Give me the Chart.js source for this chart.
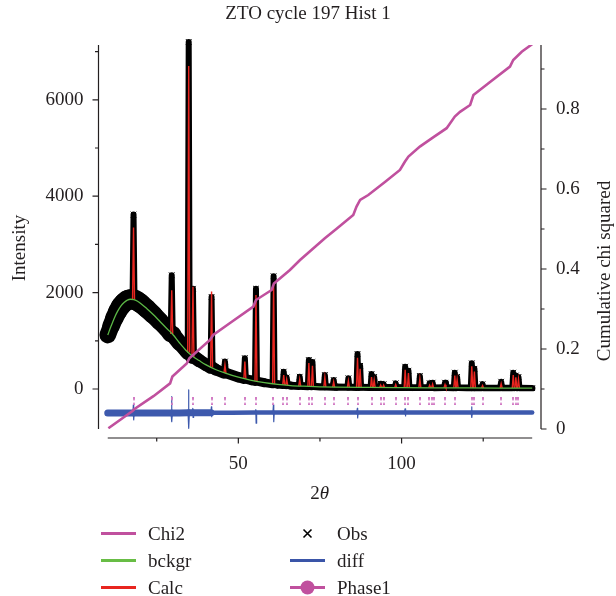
<!DOCTYPE html>
<html>
<head>
<meta charset="utf-8">
<title>ZTO cycle 197 Hist 1</title>
<script src="https://cdn.jsdelivr.net/npm/chart.js@4.4.1/dist/chart.umd.min.js"></script>
<style>
  body { margin: 0; background: #fff; }
  #wrap { position: relative; width: 616px; height: 596px; }
  #chart { position: absolute; left: 0; top: 0; }
  .key { position: absolute; height: 27px; display: flex; align-items: center;
         font: 19px "Liberation Serif", serif; color: #231f20; }
  .key svg { width: 35px; height: 27px; margin-right: 12px; }
</style>
</head>
<body>
<div id="wrap">
  <canvas id="chart" width="616" height="596"></canvas>

  <div class="key" style="left:101px; top:520px">
    <svg viewBox="0 0 35 27"><line x1="0" y1="13.5" x2="35" y2="13.5" stroke="#c0509e" stroke-width="3"/></svg>Chi2</div>
  <div class="key" style="left:101px; top:547px">
    <svg viewBox="0 0 35 27"><line x1="0" y1="13.5" x2="35" y2="13.5" stroke="#68bd45" stroke-width="3"/></svg>bckgr</div>
  <div class="key" style="left:101px; top:574px">
    <svg viewBox="0 0 35 27"><line x1="0" y1="13.5" x2="35" y2="13.5" stroke="#e8251f" stroke-width="3"/></svg>Calc</div>
  <div class="key" style="left:290px; top:520px">
    <svg viewBox="0 0 35 27"><path d="M13.5 9.5 L21.5 17.5 M21.5 9.5 L13.5 17.5" stroke="#000" stroke-width="1.6"/></svg>Obs</div>
  <div class="key" style="left:290px; top:547px">
    <svg viewBox="0 0 35 27"><line x1="0" y1="13.5" x2="35" y2="13.5" stroke="#3a55a8" stroke-width="3"/></svg>diff</div>
  <div class="key" style="left:290px; top:574px">
    <svg viewBox="0 0 35 27"><line x1="0" y1="13.5" x2="35" y2="13.5" stroke="#c0509e" stroke-width="3"/><circle cx="17.5" cy="13.5" r="7" fill="#c0509e"/></svg>Phase1</div>
</div>

<script>
// background curve (green)
const twoThetaBg = [10, 11, 12, 13, 14, 15, 16, 17, 18, 19, 20, 22, 24, 26, 28, 30, 32, 34, 36, 38, 40, 43, 46, 50, 54, 58, 62, 66, 70, 75, 80, 90, 100, 110, 120, 130, 140];
const bckgr = [1120, 1300, 1470, 1610, 1720, 1795, 1845, 1862, 1855, 1825, 1780, 1665, 1540, 1400, 1260, 1125, 955, 800, 680, 590, 505, 405, 330, 245, 180, 130, 95, 72, 58, 45, 38, 32, 28, 25, 22, 20, 18];

// peaks: position, base level, observed top, calculated top
const peakPos  = [17.9, 29.6, 34.8, 36.1, 41.8, 45.9, 52.0, 55.4, 60.8, 63.9, 64.8, 68.8, 71.6, 72.7, 76.5, 79.2, 83.7, 86.5, 87.3, 90.8, 91.6, 93.6, 94.5, 98.2, 101.1, 102.1, 105.6, 108.6, 109.5, 113.3, 116.3, 117.0, 121.5, 122.3, 124.8, 130.5, 134.2, 135.0, 135.8];
const peakBase = [1855, 1140, 755, 670, 445, 332, 210, 162, 105, 85, 82, 62, 55, 53, 45, 40, 36, 34, 34, 32, 32, 31, 31, 30, 29, 29, 28, 27, 27, 26, 25, 25, 23, 23, 22, 21, 20, 20, 20];
const obsTop   = [3620, 2360, 7200, 2080, 1910, 570, 640, 2080, 2340, 360, 240, 255, 600, 560, 290, 187, 222, 726, 480, 311, 250, 110, 100, 118, 463, 380, 270, 120, 131, 131, 339, 250, 533, 420, 100, 151, 339, 280, 250];
const calcTop  = [3350, 2050, 6700, 2120, 2020, 500, 570, 1950, 2190, 290, 200, 200, 540, 480, 240, 150, 170, 650, 420, 250, 180, 80, 80, 90, 400, 330, 210, 80, 100, 90, 280, 200, 470, 360, 70, 110, 290, 240, 200];

// difference curve (blue)
const diffX = [10, 15, 17.7, 17.85, 17.95, 18.1, 20, 25, 29.4, 29.55, 29.65, 29.8, 32, 34.6, 34.75, 34.85, 35.0, 35.9, 36.05, 36.15, 36.3, 38, 41.6, 41.75, 41.85, 42.0, 48, 55.2, 55.35, 55.45, 55.6, 60.6, 60.75, 60.85, 61.0, 70, 80, 86.3, 86.45, 86.55, 86.7, 95, 100.9, 101.05, 101.15, 101.3, 110, 121.3, 121.45, 121.55, 121.7, 130, 140];
const diffY = [-500, -500, -499, -330, -640, -499, -498, -498, -497, -160, -680, -497, -496, -495, -20, -815, -495, -495, -400, -590, -495, -495, -494, -370, -575, -494, -492, -490, -430, -710, -490, -490, -330, -680, -490, -489, -488, -488, -400, -600, -488, -488, -488, -410, -560, -488, -487, -487, -370, -590, -487, -487, -487];

// cumulative chi squared (right axis)
const chi2X = [10.2, 17.6, 18.2, 24, 29.1, 29.8, 34.2, 35.0, 41.3, 42.3, 48, 54.6, 55.4, 60.2, 60.9, 65.8, 68.9, 73.0, 76.5, 80, 85.2, 86.2, 87.3, 89.8, 95, 99.5, 101.0, 102.1, 105.6, 110, 113.8, 116.3, 117.9, 121.0, 122.0, 127, 133.2, 134.2, 136.8, 140.3];
const chi2Y = [0.002, 0.045, 0.050, 0.082, 0.114, 0.131, 0.164, 0.177, 0.2225, 0.235, 0.268, 0.306, 0.3225, 0.3475, 0.364, 0.3975, 0.4225, 0.452, 0.477, 0.500, 0.535, 0.556, 0.5725, 0.585, 0.618, 0.6475, 0.668, 0.681, 0.706, 0.731, 0.752, 0.781, 0.793, 0.81, 0.835, 0.867, 0.906, 0.9225, 0.943, 0.964];

// Phase1 reflection markers
const reflPos = [17.9, 29.6, 36.0, 41.8, 45.9, 52.0, 55.3, 60.7, 63.8, 64.8, 68.8, 71.6, 72.7, 76.5, 79.2, 83.7, 86.5, 90.8, 93.6, 94.5, 98.2, 101.1, 102.1, 105.6, 108.5, 109.3, 109.8, 113.3, 116.3, 121.5, 122.1, 124.8, 130.5, 134.2, 135.0, 135.8];
const reflLevel = -259;

// ticks (all) and tick labels (major)
const xTicks = [25, 50, 75, 100, 125];
const yTicks = [0, 1000, 2000, 3000, 4000, 5000, 6000, 7000];
const y2Ticks = [0, 0.1, 0.2, 0.3, 0.4, 0.5, 0.6, 0.7, 0.8, 0.9];
const xLabels = [50, 100];
const yLabels = [0, 2000, 4000, 6000];
const y2Labels = [0, 0.2, 0.4, 0.6, 0.8];

const PEAK_HW = 0.3;
const INK = '#231f20';
const MAGENTA = '#c0509e';
const FONT = '"Liberation Serif", serif';

function buildProfile(tops) {
  const pts = [];
  twoThetaBg.forEach((t, i) => {
    if (!peakPos.some(p => Math.abs(p - t) < PEAK_HW + 0.05)) {
      pts.push({ x: t, y: bckgr[i], top: false });
    }
  });
  peakPos.forEach((p, i) => {
    pts.push({ x: p - PEAK_HW, y: peakBase[i], top: false });
    pts.push({ x: p, y: tops[i], top: true });
    pts.push({ x: p + PEAK_HW, y: peakBase[i], top: false });
  });
  return pts.sort((a, b) => a.x - b.x);
}

const obsData = buildProfile(obsTop);
const calcData = buildProfile(calcTop);
const touchesTop = (data, c) => data[c.p0DataIndex].top || data[c.p1DataIndex].top;

// reflection tick: two short dashes stacked
const tickMark = document.createElement('canvas');
tickMark.width = 2;
tickMark.height = 8;
const tc = tickMark.getContext('2d');
tc.fillStyle = '#d27cc4';
tc.fillRect(0, 0, 2, 2.7);
tc.fillRect(0, 5.4, 2, 2.6);

const near = (list, v) => list.some(l => Math.abs(l - v) < 1e-6);
const setTicks = list => s => { s.ticks = list.map(v => ({ value: v })); };

// axis lines, ticks and titles drawn in the offset style of the original
const axesPlugin = {
  id: 'axes',
  afterDraw(chart) {
    const { ctx, chartArea: a, scales } = chart;
    const { x, y, y2 } = scales;
    ctx.save();
    ctx.strokeStyle = INK;
    ctx.lineWidth = 1.2;
    ctx.beginPath();
    ctx.moveTo(a.left, a.top); ctx.lineTo(a.left, a.bottom);
    ctx.moveTo(a.right, a.top); ctx.lineTo(a.right, a.bottom);
    const xb = a.bottom + 9;
    ctx.moveTo(x.getPixelForValue(twoThetaBg[0]), xb);
    ctx.lineTo(x.getPixelForValue(twoThetaBg[twoThetaBg.length - 1]), xb);
    y.ticks.forEach(t => {
      const py = y.getPixelForValue(t.value);
      ctx.moveTo(a.left - (near(yLabels, t.value) ? 6 : 3.5), py); ctx.lineTo(a.left, py);
    });
    y2.ticks.forEach(t => {
      const py = y2.getPixelForValue(t.value);
      ctx.moveTo(a.right, py); ctx.lineTo(a.right + (near(y2Labels, t.value) ? 5.5 : 3.5), py);
    });
    x.ticks.forEach(t => {
      const px = x.getPixelForValue(t.value);
      ctx.moveTo(px, xb); ctx.lineTo(px, xb + (near(xLabels, t.value) ? 5.5 : 3.5));
    });
    ctx.stroke();

    ctx.fillStyle = INK;
    ctx.textAlign = 'center';
    ctx.textBaseline = 'middle';
    ctx.font = '19px ' + FONT;
    const mid = (a.top + a.bottom) / 2;
    ctx.save();
    ctx.translate(a.left - 78, mid + 11);
    ctx.rotate(-Math.PI / 2);
    ctx.fillText('Intensity', 0, 0);
    ctx.restore();
    ctx.save();
    ctx.translate(a.right + 64, mid + 34);
    ctx.rotate(-Math.PI / 2);
    ctx.fillText('Cumulative chi squared', 0, 0);
    ctx.restore();

    // "2θ" with italic theta
    const cx = (a.left + a.right) / 2;
    const ty = a.bottom + 65;
    const w2 = ctx.measureText('2').width;
    ctx.font = 'italic 19px ' + FONT;
    const wt = ctx.measureText('θ').width;
    const start = cx - (w2 + wt) / 2;
    ctx.textAlign = 'left';
    ctx.font = '19px ' + FONT;
    ctx.fillText('2', start, ty);
    ctx.font = 'italic 19px ' + FONT;
    ctx.fillText('θ', start + w2, ty);
    ctx.restore();
  }
};

Chart.defaults.font.family = FONT;
Chart.defaults.font.size = 19;
Chart.defaults.color = INK;

new Chart(document.getElementById('chart'), {
  type: 'scatter',
  data: {
    datasets: [
      {
        label: 'Chi2',
        data: chi2X.map((t, i) => ({ x: t, y: chi2Y[i] })),
        yAxisID: 'y2',
        showLine: true,
        borderColor: MAGENTA,
        borderWidth: 2.6,
        pointRadius: 0,
        order: 0
      },
      {
        label: 'bckgr',
        data: twoThetaBg.map((t, i) => ({ x: t, y: bckgr[i] })),
        showLine: true,
        borderColor: '#5cb846',
        borderWidth: 1.3,
        cubicInterpolationMode: 'monotone',
        pointRadius: 0,
        order: 1
      },
      {
        label: 'Calc',
        data: calcData,
        showLine: true,
        borderColor: '#e8251f',
        borderWidth: 1.4,
        pointRadius: 0,
        segment: {
          borderColor: c => touchesTop(calcData, c) ? '#e8251f' : 'rgba(0,0,0,0)'
        },
        order: 2
      },
      {
        label: 'Phase1',
        data: reflPos.map(t => ({ x: t, y: reflLevel })),
        pointStyle: tickMark,
        pointRadius: 3,
        order: 3
      },
      {
        label: 'diff',
        data: diffX.map((t, i) => ({ x: t, y: diffY[i] })),
        showLine: true,
        borderColor: '#3d59ad',
        borderCapStyle: 'round',
        borderJoinStyle: 'round',
        pointRadius: 0,
        segment: {
          borderWidth: c => (c.p1.parsed.x - c.p0.parsed.x < 0.25) ? 1.2 : (c.p0.parsed.x < 40 ? 7 : 4.5)
        },
        order: 4
      },
      {
        label: 'Obs',
        data: obsData,
        showLine: true,
        borderColor: '#000',
        borderCapStyle: 'round',
        borderJoinStyle: 'round',
        pointStyle: 'crossRot',
        pointRadius: 4,
        pointBorderColor: '#000',
        pointBackgroundColor: '#000',
        pointBorderWidth: 1,
        clip: false,
        segment: {
          borderWidth: c => touchesTop(obsData, c)
            ? 6
            : 5 + 0.35 * Math.sqrt(Math.max(Math.min(c.p0.parsed.y, c.p1.parsed.y), 0))
        },
        order: 5
      }
    ]
  },
  options: {
    responsive: false,
    animation: false,
    events: [],
    layout: { padding: 0 },
    plugins: {
      legend: { display: false },
      tooltip: { enabled: false },
      title: {
        display: true,
        text: 'ZTO cycle 197 Hist 1',
        color: INK,
        font: { size: 19, weight: 'normal' },
        padding: { top: 3, bottom: 19.2 }
      }
    },
    scales: {
      x: {
        type: 'linear',
        min: 7.17,
        max: 142.7,
        afterFit: s => { s.height = 167; },
        afterBuildTicks: setTicks(xTicks),
        grid: { display: false, drawTicks: false },
        border: { display: false },
        ticks: {
          autoSkip: false,
          maxRotation: 0,
          padding: 24,
          callback: v => near(xLabels, v) ? String(v) : ''
        }
      },
      y: {
        type: 'linear',
        position: 'left',
        min: -830,
        max: 7137,
        afterFit: s => { s.width = 98.5; },
        afterBuildTicks: setTicks(yTicks),
        grid: { display: false, drawTicks: false },
        border: { display: false },
        ticks: {
          autoSkip: false,
          padding: 15,
          callback: v => near(yLabels, v) ? String(v) : ''
        }
      },
      y2: {
        type: 'linear',
        position: 'right',
        min: 0,
        max: 0.96,
        afterFit: s => { s.width = 75; },
        afterBuildTicks: setTicks(y2Ticks),
        grid: { display: false, drawTicks: false },
        border: { display: false },
        ticks: {
          autoSkip: false,
          padding: 15,
          callback: v => near(y2Labels, v) ? (v === 0 ? '0' : v.toFixed(1)) : ''
        }
      }
    }
  },
  plugins: [axesPlugin]
});
</script>
</body>
</html>
